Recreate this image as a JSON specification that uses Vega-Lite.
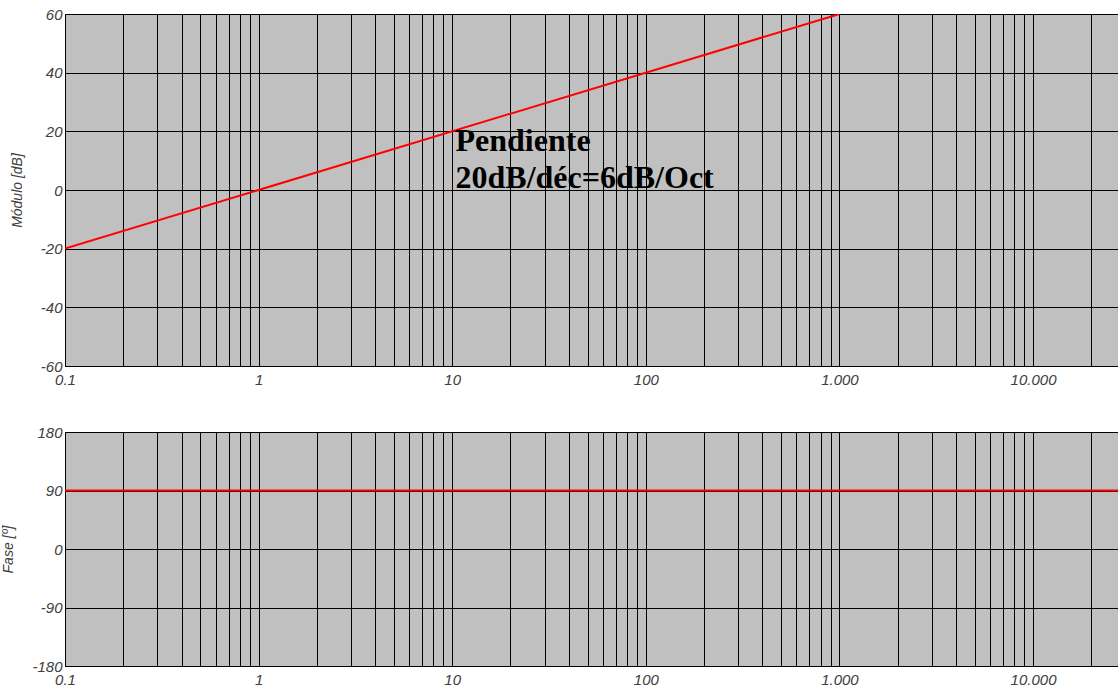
{
  "$schema": "https://vega.github.io/schema/vega-lite/v6.json",
  "background": "white",
  "padding": {"left": 1, "top": 6, "right": 0, "bottom": 0},
  "spacing": 36,
  "config": {
    "view": {"fill": "#c0c0c0", "stroke": "black", "strokeWidth": 1},
    "axis": {
      "labelFont": "Liberation Sans", "labelFontStyle": "italic", "labelColor": "#404040", "labelFontSize": 15,
      "titleFont": "Liberation Sans", "titleFontStyle": "italic", "titleFontWeight": "normal", "titleColor": "#404040", "titleFontSize": 14,
      "grid": true, "gridColor": "black", "gridOpacity": 1, "gridWidth": 1, "ticks": false, "domain": false,
      "labelOverlap": false, "labelBound": false
    },
    "axisX": {"labelFlush": false, "labelPadding": 6, "labelDx": 4},
    "axisY": {"labelPadding": 3, "titlePadding": 16, "labelBaseline": "middle", "labelExpr": "'' + datum.value"}
  },
  "datasets": {
    "mag": [{"f": 0.1, "db": -20}, {"f": 1000, "db": 60}],
    "phase": [{"f": 0.1, "deg": 90}, {"f": 27800, "deg": 90}],
    "note": [{"f": 10.4, "db": 13.4, "label": "Pendiente\n20dB/déc=6dB/Oct"}]
  },
  "vconcat": [
    {
      "width": 1054, "height": 352,
      "layer": [
        {
          "data": {"name": "mag"},
          "mark": {"type": "line", "color": "#ff0000", "strokeWidth": 2, "clip": true},
          "encoding": {
            "x": {"field": "f", "type": "quantitative",
              "scale": {"type": "log", "domain": [0.1, 27800], "nice": false},
              "axis": {"title": null,
                "values": [0.1,0.2,0.3,0.4,0.5,0.6,0.7,0.8,0.9,1,2,3,4,5,6,7,8,9,10,20,30,40,50,60,70,80,90,100,200,300,400,500,600,700,800,900,1000,2000,3000,4000,5000,6000,7000,8000,9000,10000,20000],
                "labelExpr": "datum.value == 0.1 ? '0.1' : (indexof([1,10,100,1000,10000], datum.value) >= 0 ? replace(format(datum.value, ','), ',', '.') : '')"}},
            "y": {"field": "db", "type": "quantitative",
              "scale": {"domain": [-60, 60], "nice": false},
              "axis": {"title": "Módulo [dB]", "values": [-60,-40,-20,0,20,40,60]}}
          }
        },
        {
          "data": {"name": "note"},
          "mark": {"type": "text", "align": "left", "baseline": "alphabetic", "font": "Liberation Serif", "fontWeight": "bold", "fontSize": 32, "lineHeight": 37, "color": "black", "lineBreak": "\n"},
          "encoding": {
            "x": {"field": "f", "type": "quantitative"},
            "y": {"field": "db", "type": "quantitative"},
            "text": {"field": "label"}
          }
        }
      ]
    },
    {
      "width": 1054, "height": 234,
      "data": {"name": "phase"},
      "mark": {"type": "line", "color": "#ff0000", "strokeWidth": 2, "clip": true},
      "encoding": {
        "x": {"field": "f", "type": "quantitative",
          "scale": {"type": "log", "domain": [0.1, 27800], "nice": false},
          "axis": {"title": null,
            "values": [0.1,0.2,0.3,0.4,0.5,0.6,0.7,0.8,0.9,1,2,3,4,5,6,7,8,9,10,20,30,40,50,60,70,80,90,100,200,300,400,500,600,700,800,900,1000,2000,3000,4000,5000,6000,7000,8000,9000,10000,20000],
            "labelExpr": "datum.value == 0.1 ? '0.1' : (indexof([1,10,100,1000,10000], datum.value) >= 0 ? replace(format(datum.value, ','), ',', '.') : '')"}},
        "y": {"field": "deg", "type": "quantitative",
          "scale": {"domain": [-180, 180], "nice": false},
          "axis": {"title": "Fase [º]", "values": [-180,-90,0,90,180]}}
      }
    }
  ]
}
